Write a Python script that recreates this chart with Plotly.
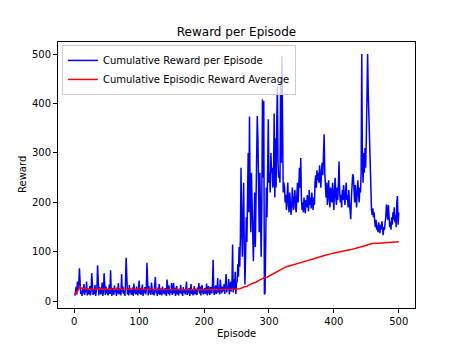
import numpy as np
import plotly.graph_objects as go

episodes = list(range(1, 501))
rewards = [
    12, 18, 30, 14, 40, 22, 35, 67, 25, 15,
    20, 11, 28, 16, 35, 13, 24, 19, 40, 12,
    17, 26, 14, 31, 12, 22, 57, 18, 13, 25,
    15, 33, 11, 20, 27, 73, 16, 12, 29, 18,
    14, 24, 38, 11, 19, 57, 22, 13, 30, 16,
    25, 12, 18, 34, 15, 63, 21, 11, 27, 17,
    13, 32, 19, 24, 11, 28, 16, 37, 14, 20,
    26, 12, 55, 18, 30, 15, 22, 11, 35, 88,
    19, 14, 27, 12, 33, 17, 24, 13, 21, 28,
    11, 36, 16, 25, 14, 30, 18, 12, 23, 42,
    15, 27, 13, 20, 34, 11, 24, 17, 29, 14,
    22, 78, 18, 12, 31, 16, 26, 13, 38, 19,
    14, 24, 12, 33, 49, 17, 21, 11, 28, 15,
    35, 13, 20, 26, 12, 30, 16, 23, 14, 27,
    18, 11, 44, 21, 15, 32, 12, 25, 17, 37,
    13, 22, 37, 16, 28, 11, 19, 31, 14, 24,
    12, 26, 17, 33, 15, 21, 11, 29, 18, 24,
    14, 30, 40, 13, 22, 16, 27, 11, 20, 35,
    15, 24, 12, 19, 31, 14, 26, 17, 13, 28,
    21, 37, 16, 30, 12, 25, 33, 18, 14, 23,
    27, 15, 20, 36, 12, 24, 31, 17, 13, 29,
    22, 16, 35, 84, 19, 13, 26, 32, 15, 21,
    47, 18, 28, 14, 44, 23, 16, 30, 20, 25,
    35, 15, 28, 55, 18, 30, 22, 45, 14, 25,
    40, 20, 35, 115, 18, 45, 25, 60, 15, 38,
    40, 75, 50, 110, 70, 130, 270, 150, 90, 180,
    240, 110, 34, 90, 170, 120, 250, 300, 180, 374,
    220, 140, 260, 170, 100, 81, 150, 220, 110, 200,
    280, 375, 330, 200, 140, 260, 170, 90, 200, 408,
    250, 405, 14, 17, 120, 230, 170, 280, 368, 240,
    260, 220, 300, 260, 270, 230, 240, 380, 210, 330,
    230, 360, 435, 280, 250, 260, 240, 452, 280, 496,
    260, 220, 240, 230, 200, 215, 185, 210, 240, 195,
    180, 220, 205, 175, 190, 230, 200, 185, 210, 225,
    190, 180, 215, 240, 200, 250, 270, 230, 290, 210,
    185, 200, 180, 210, 195, 178, 205, 190, 215, 200,
    182, 225, 195, 210, 188, 220, 200, 185, 210, 195,
    240, 255, 230, 265, 245, 260, 240, 275, 250, 230,
    265, 280, 255, 300, 338, 260, 230, 210, 240, 195,
    220, 245, 205, 190, 230, 215, 200, 240, 210, 185,
    225, 250, 210, 195, 230, 205, 240, 283, 220, 200,
    215, 190, 225, 205, 235, 210, 195, 220, 240, 205,
    215, 190, 225, 200, 185, 166, 210, 240, 257, 253,
    220, 200, 235, 210, 190, 225, 245, 215, 200, 230,
    220, 260, 500, 280, 240, 300, 260, 310, 270, 330,
    500, 500, 420, 360, 340, 250, 190, 185, 175, 188,
    170, 180, 160, 150, 165, 145, 155, 140, 160, 150,
    138, 155, 145, 162, 140, 134, 150, 145, 160, 170,
    196, 180, 165, 195, 175, 150, 160, 145, 170, 155,
    180, 165, 190, 160, 175, 150, 200, 213, 155, 180,
]
# cumulative episodic reward average (running mean of the rewards)
average = list(np.cumsum(rewards) / np.arange(1, len(rewards) + 1))

x_ticks = [0, 100, 200, 300, 400, 500]
y_ticks = [0, 100, 200, 300, 400, 500]

W, H = 461, 346
L, R, T, B = 58, 46, 42, 38

ymin, ymax = min(rewards), max(rewards)
pad = 0.05 * (ymax - ymin)

fig = go.Figure()
fig.add_trace(go.Scatter(x=episodes, y=rewards, mode="lines",
                         line=dict(color="#0000ff", width=1.5),
                         name="Cumulative Reward per Episode"))
fig.add_trace(go.Scatter(x=episodes, y=average, mode="lines",
                         line=dict(color="#ff0000", width=1.5),
                         name="Cumulative Episodic Reward Average"))

font = dict(family="DejaVu Sans", size=10, color="black")
axis_common = dict(showline=True, linecolor="black", linewidth=1, mirror=True,
                   ticks="outside", ticklen=4, tickwidth=1, tickcolor="black",
                   showgrid=False, zeroline=False, tickfont=font, automargin=False)

fig.update_layout(
    width=W, height=H,
    margin=dict(l=L, r=R, t=T, b=B),
    paper_bgcolor="white", plot_bgcolor="white",
    font=font,
    title=dict(text="Reward per Episode", x=(L + (W - R)) / 2 / W, xanchor="center",
               y=1 - 32 / H, yanchor="middle",
               font=dict(family="DejaVu Sans", size=12, color="black")),
    xaxis=dict(range=[-25, 525], tickvals=x_ticks, **axis_common),
    yaxis=dict(range=[ymin - pad, ymax + pad], tickvals=y_ticks, **axis_common),
    legend=dict(x=0.011, y=0.989, xanchor="left", yanchor="top",
                bgcolor="rgba(255,255,255,0.8)", bordercolor="#cccccc", borderwidth=1,
                font=dict(family="DejaVu Sans", size=10, color="black"),
                tracegroupgap=0, itemwidth=30),
    showlegend=True,
    annotations=[
        dict(text="Episode", x=0.5, xref="paper", y=-(333 - (H - B)) / (H - T - B),
             yref="paper", xanchor="center", yanchor="middle", showarrow=False,
             font=font),
        dict(text="Reward", x=-(L - 22) / (W - L - R), xref="paper", y=0.5, yref="paper",
             textangle=-90, xanchor="center", yanchor="middle", showarrow=False,
             font=font),
    ],
)

fig.write_html("out.html",
               config={"displayModeBar": False},
               post_script="document.body.style.margin='0';document.body.style.padding='0';")
